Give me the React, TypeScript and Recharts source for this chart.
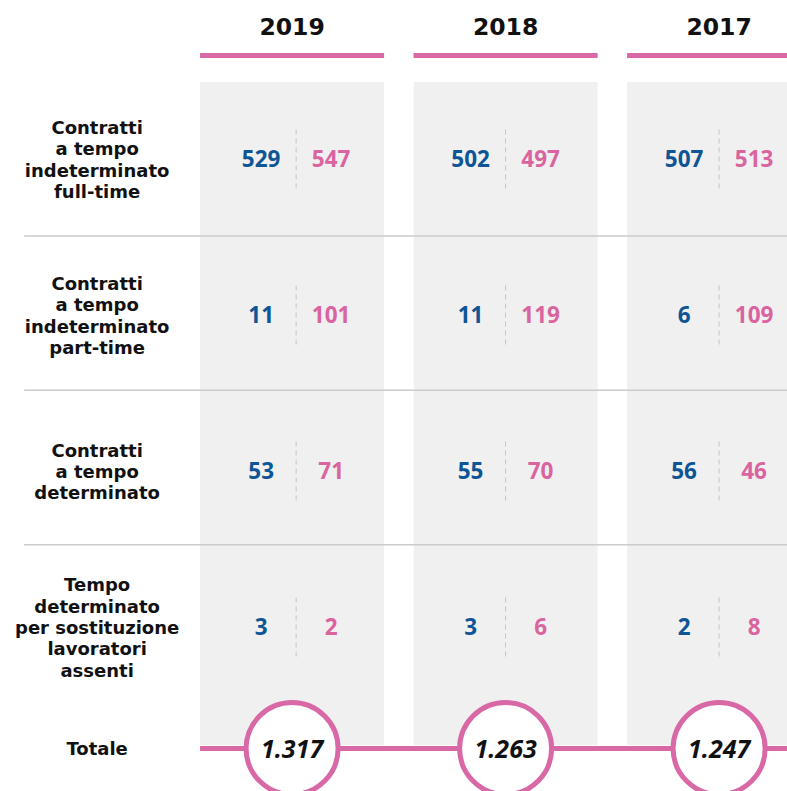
import React from 'react';
import { ComposedChart, XAxis, YAxis, Scatter, ReferenceArea, ReferenceLine } from 'recharts';

// column headers and row labels
const years = ['2019', '2018', '2017'];
const rowLabels = [
  ['Contratti', 'a tempo', 'indeterminato', 'full-time'],
  ['Contratti', 'a tempo', 'indeterminato', 'part-time'],
  ['Contratti', 'a tempo', 'determinato'],
  ['Tempo', 'determinato', 'per sostituzione', 'lavoratori', 'assenti'],
];
const totalLabel = 'Totale';

// values per year, one entry per row (blue / pink)
const blue2019 = [529, 11, 53, 3];
const pink2019 = [547, 101, 71, 2];
const blue2018 = [502, 11, 55, 3];
const pink2018 = [497, 119, 70, 6];
const blue2017 = [507, 6, 56, 2];
const pink2017 = [513, 109, 46, 8];
const totals = [1317, 1263, 1247];

const BLUE = '#0e5596';
const PINK = '#d9649f';
const LINE_PINK = '#d868a6';
const PANEL = '#f0f0f0';

// layout in axis units (x = column index, y = row index)
const X_MIN = -1.368;
const X_MAX = 2.318;
const Y_MIN = -1.022;
const Y_MAX = 4.048;
const PANEL_HALF = 0.431;
const LABEL_X = -0.913;
const LINE_START_X = -1.255;
const HEADER_Y = -0.856;
const HEADER_BAR_Y = -0.667;
const PANEL_TOP = -0.497;
const PANEL_BOTTOM = 3.753;
const TOTAL_Y = 3.776;
const separatorRows = [0.49, 1.48, 2.47];
// the 2019 value pair sits slightly right of its panel centre
const columnNudge = [0.019, 0, 0];

const blueByYear = [blue2019, blue2018, blue2017];
const pinkByYear = [pink2019, pink2018, pink2017];

const blueData = blueByYear.flatMap((vals, xi) => vals.map((v, ri) => ({ x: xi + columnNudge[xi], y: ri, value: v })));
const pinkData = pinkByYear.flatMap((vals, xi) => vals.map((v, ri) => ({ x: xi + columnNudge[xi], y: ri, value: v })));
const labelData = [
  ...rowLabels.map((lines, i) => ({ x: LABEL_X, y: i, lines })),
  { x: LABEL_X, y: TOTAL_Y, lines: [totalLabel] },
];
const headerData = years.map((yr, i) => ({ x: i, y: HEADER_Y, label: yr }));
const totalData = totals.map((t, i) => ({ x: i, y: TOTAL_Y, value: t }));

const LABEL_FONT = '"DejaVu Sans", sans-serif';
const NUM_FONT = '"Open Sans", sans-serif';

const fmtIt = (v: number) => v.toLocaleString('it-IT');

// eslint-disable-next-line @typescript-eslint/no-explicit-any
function RowLabel({ cx, cy, payload }: any) {
  const lines: string[] = payload.lines;
  const lh = 21.3;
  const first = cy - ((lines.length - 1) * lh) / 2 + 6.5;
  return (
    <text textAnchor="middle" fontFamily={LABEL_FONT} fontWeight={700} fontSize={18} fill="#111">
      {lines.map((l, k) => (
        <tspan key={k} x={cx} y={first + k * lh}>{l}</tspan>
      ))}
    </text>
  );
}

// eslint-disable-next-line @typescript-eslint/no-explicit-any
function YearLabel({ cx, cy, payload }: any) {
  return (
    <text x={cx} y={cy + 9} textAnchor="middle" fontFamily={LABEL_FONT} fontWeight={700} fontSize={23.5} fill="#111">
      {payload.label}
    </text>
  );
}

// eslint-disable-next-line @typescript-eslint/no-explicit-any
const valueShape = (color: string, dx: number) => ({ cx, cy, payload }: any) => (
  <text x={cx + dx} y={cy + 8} textAnchor="middle" fontFamily={NUM_FONT} fontWeight={700} fontSize={22.5} fill={color}>
    {payload.value}
  </text>
);

// eslint-disable-next-line @typescript-eslint/no-explicit-any
function Divider({ cx, cy }: any) {
  return <line x1={cx} x2={cx} y1={cy - 30} y2={cy + 30} stroke="#c4c4c4" strokeWidth={1} strokeDasharray="5 4" />;
}

// eslint-disable-next-line @typescript-eslint/no-explicit-any
function TotalBubble({ cx, cy, payload }: any) {
  return (
    <g>
      <circle cx={cx} cy={cy} r={46} fill="#fff" stroke={LINE_PINK} strokeWidth={5} />
      <text x={cx} y={cy + 9} textAnchor="middle" fontFamily={NUM_FONT} fontWeight={700} fontStyle="italic" fontSize={25} fill="#111">
        {fmtIt(payload.value)}
      </text>
    </g>
  );
}

export default function App() {
  return (
    <div style={{ position: 'absolute', left: 0, top: 0, background: '#fff' }}>
      <ComposedChart width={787} height={791} margin={{ top: 0, right: 0, bottom: 0, left: 0 }}>
        <XAxis type="number" dataKey="x" domain={[X_MIN, X_MAX]} hide allowDataOverflow />
        <YAxis type="number" dataKey="y" domain={[Y_MIN, Y_MAX]} reversed hide allowDataOverflow />

        {years.map((yr, i) => (
          <ReferenceArea key={`panel-${yr}`} x1={i - PANEL_HALF} x2={i + PANEL_HALF} y1={PANEL_TOP} y2={PANEL_BOTTOM}
            fill={PANEL} fillOpacity={1} stroke="none" ifOverflow="hidden" />
        ))}

        {separatorRows.map((r) => (
          <ReferenceLine key={`sep-${r}`} segment={[{ x: LINE_START_X, y: r }, { x: X_MAX, y: r }]}
            stroke="#cbcbcb" strokeWidth={1.5} ifOverflow="hidden" />
        ))}

        {years.map((yr, i) => (
          <ReferenceLine key={`head-${yr}`} segment={[{ x: i - PANEL_HALF, y: HEADER_BAR_Y }, { x: i + PANEL_HALF, y: HEADER_BAR_Y }]}
            stroke={LINE_PINK} strokeWidth={5} ifOverflow="hidden" />
        ))}

        <ReferenceLine segment={[{ x: -PANEL_HALF, y: TOTAL_Y }, { x: X_MAX, y: TOTAL_Y }]}
          stroke={LINE_PINK} strokeWidth={5} ifOverflow="hidden" />

        <Scatter data={blueData} shape={Divider} isAnimationActive={false} />
        <Scatter data={headerData} shape={YearLabel} isAnimationActive={false} />
        <Scatter data={labelData} shape={RowLabel} isAnimationActive={false} />
        <Scatter data={blueData} shape={valueShape(BLUE, -35)} isAnimationActive={false} />
        <Scatter data={pinkData} shape={valueShape(PINK, 35)} isAnimationActive={false} />
        <Scatter data={totalData} shape={TotalBubble} isAnimationActive={false} />
      </ComposedChart>
    </div>
  );
}
